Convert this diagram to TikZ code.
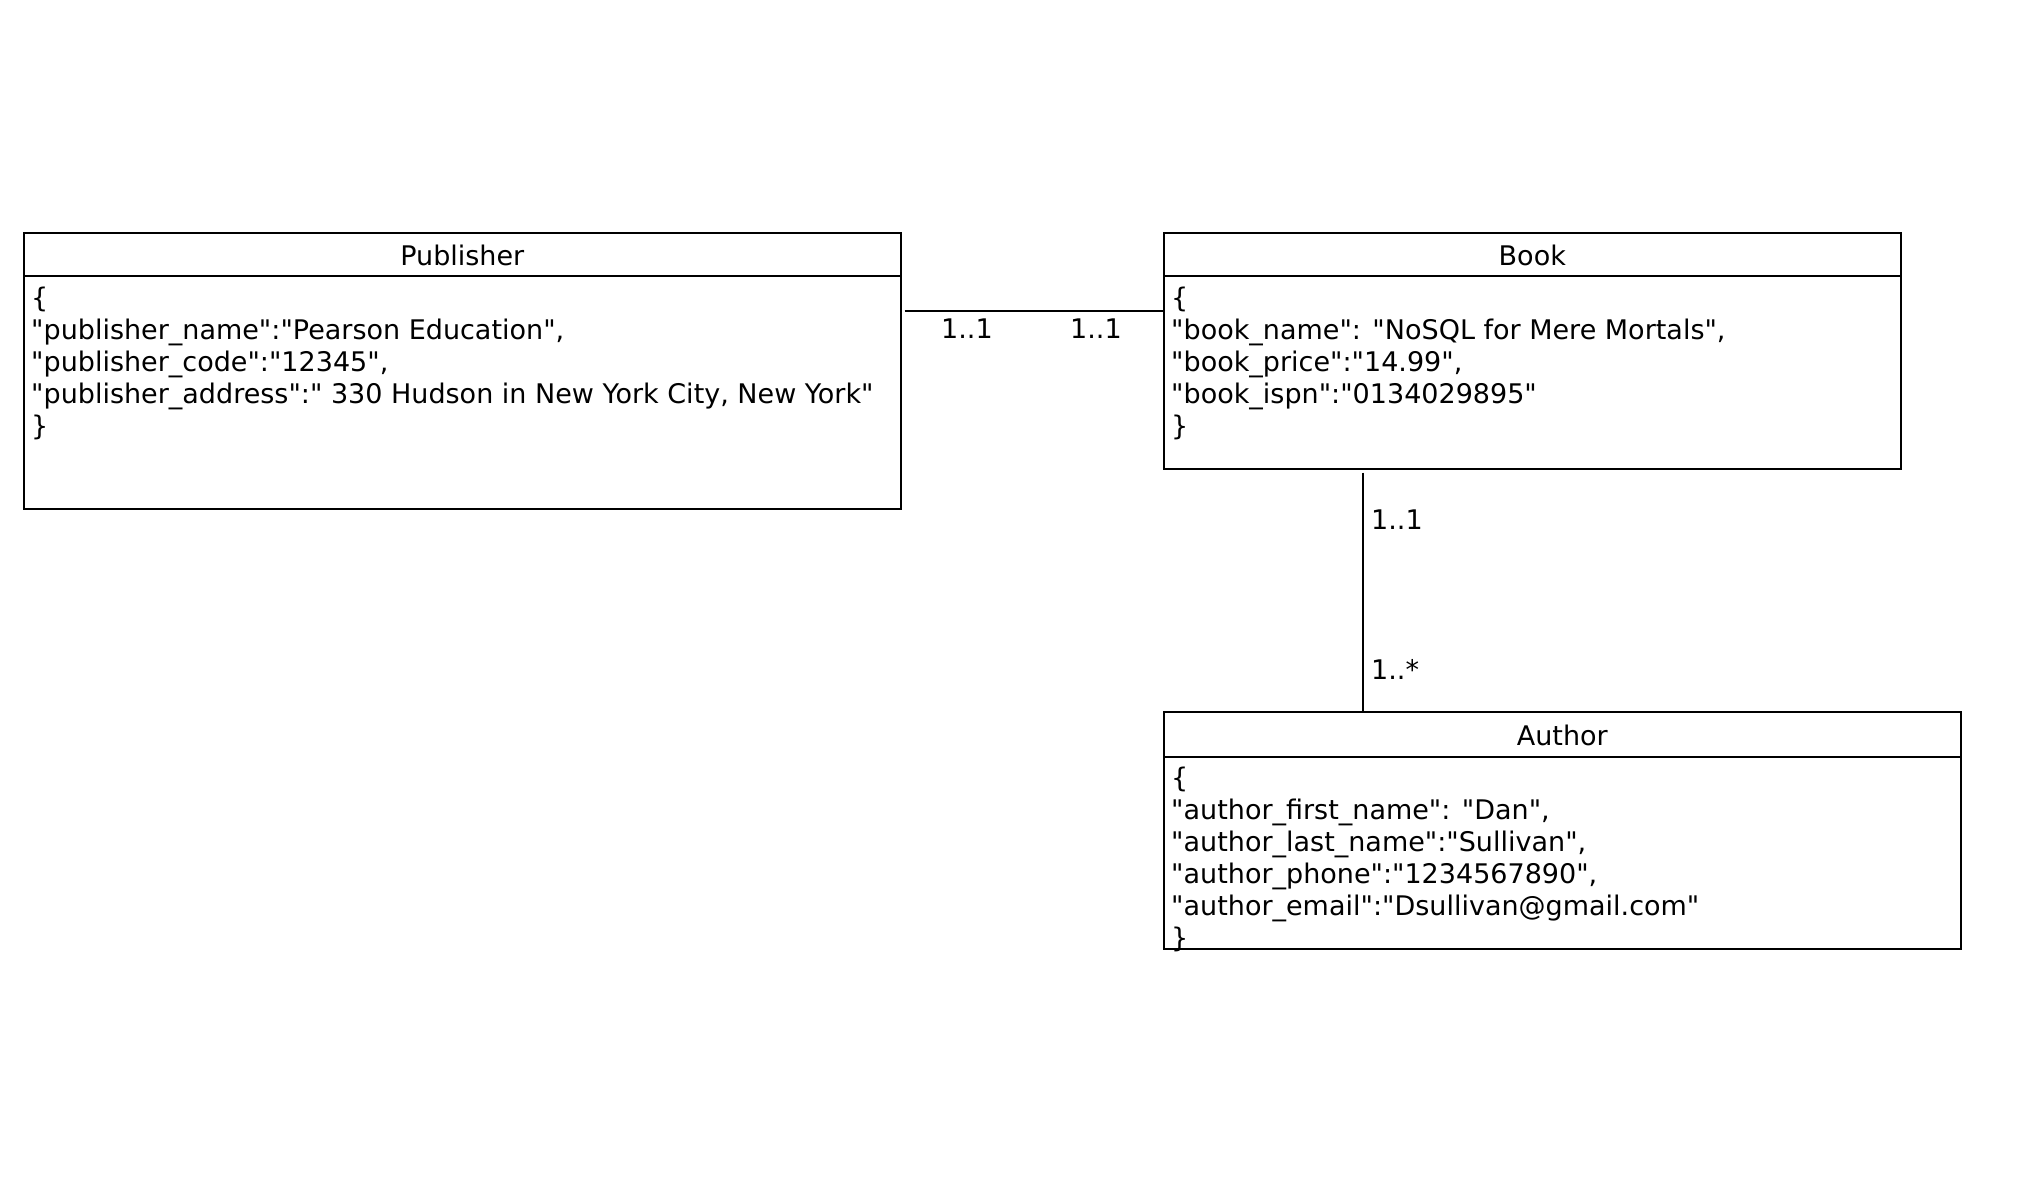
\documentclass[tikz,border=0pt]{standalone}
\usepackage{fontspec}
\newfontfamily\uifont{DejaVu Sans}
\usetikzlibrary{calc}
\begin{document}
\begin{tikzpicture}[x=1pt,y=-1pt,
  box/.style={draw, line width=1.6pt, anchor=north west, inner sep=0pt},
  divline/.style={line width=1.6pt},
  conn/.style={line width=1.6pt},
  txt/.style={font=\uifont\fontsize{27}{32}\selectfont, inner sep=0pt},
  body/.style={txt, align=left, anchor=north west},
  title/.style={txt, anchor=base},
  mult/.style={txt, anchor=base west}]
\useasboundingbox (0,0) rectangle (2042,1204);
% boxes
\node[box, minimum width=877pt, minimum height=276pt] (pub) at (23,232) {};
\node[box, minimum width=737pt, minimum height=236pt] (book) at (1163,232) {};
\node[box, minimum width=797pt, minimum height=237pt] (auth) at (1163,711) {};
% header dividers
\draw[divline] ($(pub.north west)+(0,44)$) -- ($(pub.north east)+(0,44)$);
\draw[divline] ($(book.north west)+(0,44)$) -- ($(book.north east)+(0,44)$);
\draw[divline] ($(auth.north west)+(0,46)$) -- ($(auth.north east)+(0,46)$);
% titles
\node[title] (pubT) at ($(pub.north)+(0,33)$) {Publisher};
\node[title] (bookT) at ($(book.north)+(0,33)$) {Book};
\node[title] (authT) at ($(auth.north)+(0,34)$) {Author};
% bodies
\node[body] (pubB) at ($(pub.north west)+(8,55)$) {\{\\
"publisher\_name":"Pearson Education",\\
"publisher\_code":"12345",\\
"publisher\_address":" 330 Hudson in New York City, New York"\\
\}};
\node[body] (bookB) at ($(book.north west)+(8,55)$) {\{\\
"book\_name": "NoSQL for Mere Mortals",\\
"book\_price":"14.99",\\
"book\_ispn":"0134029895"\\
\}};
\node[body] (authB) at ($(auth.north west)+(8,56)$) {\{\\
"author\_first\_name": "Dan",\\
"author\_last\_name":"Sullivan",\\
"author\_phone":"1234567890",\\
"author\_email":"Dsullivan@gmail.com"\\
\}};
% connectors
\coordinate (c1) at ($(pub.north east)+(3,79)$);
\coordinate (c2) at (book.west |- c1);
\draw[conn] (c1) -- (c2);
\coordinate (v1) at ($(book.south west)+(200,3)$);
\coordinate (v2) at (v1 |- auth.north);
\draw[conn] (v1) -- (v2);
% multiplicities
\node[mult] (m1) at (941,338) {1..1};
\node[mult] (m2) at (1070,338) {1..1};
\node[mult] (m3) at (1371,529) {1..1};
\node[mult] (m4) at (1371,679) {1..*};
\end{tikzpicture}
\end{document}
